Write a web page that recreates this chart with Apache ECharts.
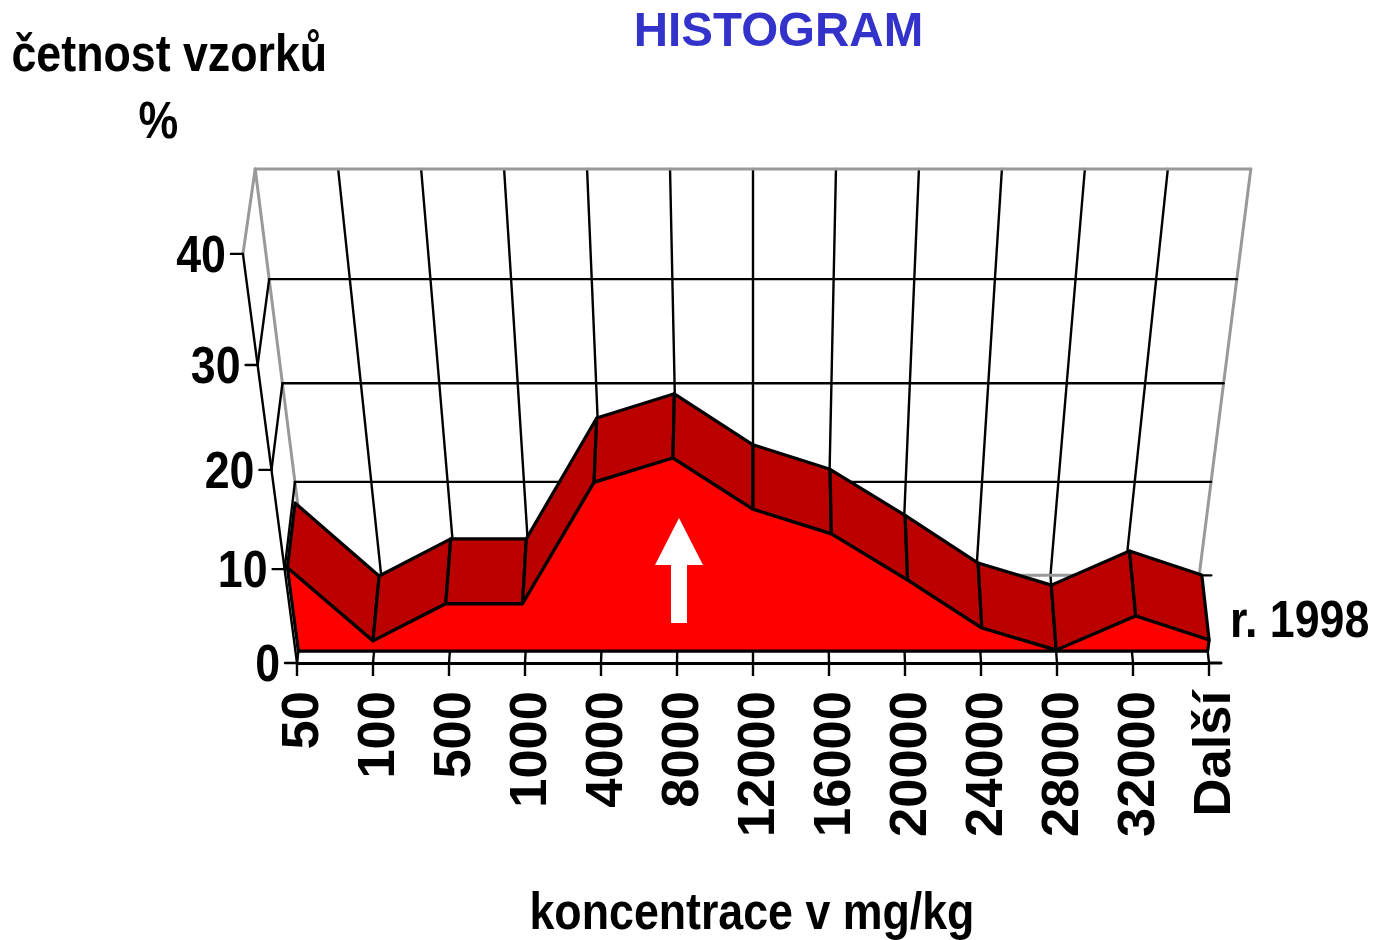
<!DOCTYPE html>
<html><head><meta charset="utf-8">
<style>html,body{margin:0;background:#fff}#c{width:1374px;height:940px}</style>
<script src="https://cdn.jsdelivr.net/npm/echarts@6/dist/echarts.min.js"></script>
</head><body><div id="c"></div>
<script>
const categories = ['50','100','500','1000','4000','8000','12000','16000','20000','24000','28000','32000','Další'];
const values = [8.9,1.1,5.1,5.1,17.6,20,14.9,12.4,7.6,2.5,0.1,3.8,1.2];
const yTicks = [0,10,20,30,40];
const seriesName = 'r. 1998';

const SANS = '"Liberation Sans",Arial,sans-serif';
const BOLD52 = 'bold 52px '+SANS;
const NARROW = 0.86;
const persp = {perV:-0.00265, perD:0.022, liftD:75, liftVD:0.07, areaFront:0.134, areaBack:0.876};
const GREY = '#999999';
const LAST = categories.length-1;
const YMAX = yTicks[yTicks.length-1];
const GRIDW = 2.4, EDGEW = 3, FACEW = 3.2;

function projector(api){
  const cx = api.coord([LAST/2,0])[0];
  return function(i,v,d){
    const p = api.coord([i,v]);
    const w = 1+persp.perV*v+persp.perD*d;
    return [cx+(p[0]-cx)/w,(p[1]-persp.liftD*d+persp.liftVD*v*d)/w];
  };
}
function line(a,b,color,width){
  return {type:'line',shape:{x1:a[0],y1:a[1],x2:b[0],y2:b[1]},style:{stroke:color,lineWidth:width,lineCap:'round'}};
}
function renderColumn(params,api){
  const P = projector(api), i = api.value(0);
  const edge = i===0||i===LAST;
  const kids = [];
  kids.push(line(P(i,YMAX,1),P(i,0,1),edge?GREY:'#000',edge?EDGEW:GRIDW));
  kids.push(line(P(i,0,1),P(i,0,0),i===0?GREY:'#000',GRIDW));
  return {type:'group',children:kids};
}
function renderTick(params,api){
  const P = projector(api), v = api.value(0);
  const top = v===YMAX, floor = v===0;
  const kids = [];
  kids.push(line(P(0,v,1),P(LAST,v,1),(top||floor)?GREY:'#000',(top||floor)?EDGEW:GRIDW));
  kids.push(line(P(0,v,1),P(0,v,0),top?GREY:'#000',top?EDGEW:GRIDW));
  const f = P(0,v,0);
  kids.push(line([f[0]-12,f[1]],f,'#000',GRIDW));
  kids.push({type:'text',x:f[0]-17,y:f[1]+3.5,scaleX:NARROW,style:{text:String(v),x:0,y:0,align:'right',verticalAlign:'middle',
    font:BOLD52,fill:'#000'}});
  if(floor){
    const r = P(LAST,0,1);
    kids.push(line(r,[r[0]+12,r[1]],'#000',GRIDW));
    const e = P(LAST,0,0);
    kids.push(line(e,[e[0]+12,e[1]],'#000',EDGEW));
  }
  if(top){ kids.push(line(P(0,YMAX,0),P(0,0,0),'#000',GRIDW)); }
  return {type:'group',children:kids};
}
function renderFacet(params,api){
  const P = projector(api), i = api.value(0), v = api.value(1);
  if(i>=LAST) return null;
  const n = values[i+1];
  return {type:'polygon',shape:{points:[P(i,v,persp.areaFront),P(i+1,n,persp.areaFront),P(i+1,n,persp.areaBack),P(i,v,persp.areaBack)]},
    style:{fill:'#BB0000',stroke:'#000',lineWidth:FACEW,lineJoin:'round'}};
}
function renderFront(params,api){
  if(api.value(0)!==0) return null;
  const P = projector(api), pts = [P(0,0,persp.areaFront)];
  values.forEach((v,i)=>pts.push(P(i,v,persp.areaFront)));
  pts.push(P(LAST,0,persp.areaFront));
  return {type:'polygon',shape:{points:pts},style:{fill:'#FF0000',stroke:'#000',lineWidth:FACEW,lineJoin:'round'}};
}
function narrowText(text,x,y,align){
  return {type:'text',x:x,y:y,z:9,scaleX:NARROW,style:{text:text,x:0,y:0,align:align||'left',verticalAlign:'middle',font:BOLD52,fill:'#000'}};
}
const chart = echarts.init(document.getElementById('c'),null,{renderer:'canvas'});
const catIdx = categories.map((c,i)=>i);
chart.setOption({
  animation:false,
  backgroundColor:'#fff',
  title:{text:'HISTOGRAM',left:773.5,top:4,textAlign:'center',textStyle:{fontFamily:SANS,fontWeight:'bold',fontSize:47.5,color:'#3333CC'}},
  grid:{left:297,right:165,top:227,bottom:277,outerBoundsMode:'none'},
  xAxis:{type:'category',data:categories,boundaryGap:false,
    axisLine:{lineStyle:{color:'#000',width:EDGEW}},
    axisTick:{show:true,length:13,alignWithLabel:true,lineStyle:{color:'#000',width:GRIDW}},
    axisLabel:{interval:0,rotate:90,margin:28,hideOverlap:false,
      formatter:function(v){return '{t|'+v+'}';},
      rich:{t:{padding:[14,0,0,0],fontFamily:SANS,fontWeight:'bold',fontSize:52.5,color:'#000'}}},
    splitLine:{show:false}},
  yAxis:{type:'value',min:0,max:YMAX,interval:10,show:false},
  series:[
    {type:'custom',coordinateSystem:'cartesian2d',renderItem:renderColumn,data:catIdx.map(i=>[i]),encode:{x:0},z:1},
    {type:'custom',coordinateSystem:'cartesian2d',renderItem:renderTick,data:yTicks.map(v=>[v]),encode:{y:0},z:2},
    {type:'custom',coordinateSystem:'cartesian2d',renderItem:renderFacet,data:values.map((v,i)=>[i,v]),encode:{x:0,y:1},z:3},
    {type:'custom',coordinateSystem:'cartesian2d',renderItem:renderFront,data:values.map((v,i)=>[i,v]),encode:{x:0,y:1},z:4}
  ],
  graphic:[
    narrowText('četnost vzorků',11.5,57),
    narrowText('%',138.5,124),
    narrowText(seriesName,1230,623),
    narrowText('koncentrace v mg/kg',529.5,915),
    {type:'polygon',z:9,shape:{points:[[679,518],[703,565],[687,565],[687,623],[671,623],[671,565],[655,565]]},style:{fill:'#fff'}}
  ]
});
</script></body></html>
